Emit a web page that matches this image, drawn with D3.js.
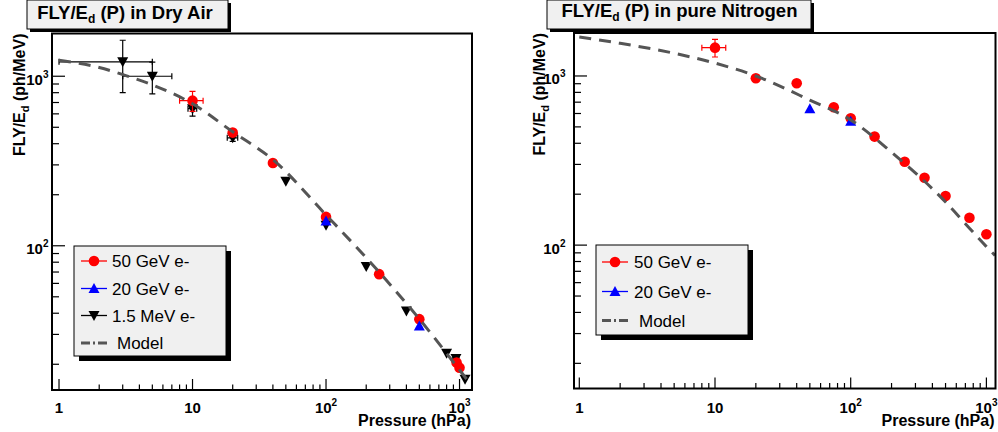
<!DOCTYPE html>
<html><head><meta charset="utf-8">
<script src="https://cdn.jsdelivr.net/npm/d3@7"></script>
<style>html,body{margin:0;padding:0;background:#fff}svg{display:block}</style>
</head><body><svg id="c" width="998" height="432"></svg>
<script>
// ---------- data: Dry Air ----------
const airP50 = [10, 20, 40, 100, 250, 500, 950, 1000];
const airV50 = [718, 465, 308, 148, 68, 36.9, 20.5, 19.1];
const airEP50 = [2, 0, 0, 0, 0, 0, 0, 0];
const airEV50 = [97, 0, 0, 0, 0, 0, 0, 0];
const airP20 = [100, 500];
const airV20 = [140, 33.6];
const airP15 = [3, 5, 10, 20, 50, 100, 200, 400, 800, 940, 1100];
const airV15 = [1216, 1000, 644, 433, 240, 132, 75.5, 41.3, 23.2, 21.6, 16.3];
const airEP15 = [2, 2, 0.75, 1.8, 0, 0, 0, 0, 0, 48, 0];
const airEV15 = [415, 213, 63, 20, 0, 0, 0, 0, 0, 0, 0];
const airModelP = [1, 2, 3, 5, 10, 20, 40, 100, 200, 500, 1000, 1200];
const airModelV = [1243, 1126, 1023, 890, 688, 470, 322, 152, 85, 37, 18.5, 15.4];
// ---------- data: pure Nitrogen ----------
const n2P50 = [10, 20, 40, 75, 100, 150, 250, 350, 500, 750, 1000];
const n2V50 = [1470, 969, 905, 653, 562, 438, 311, 250, 195, 145, 116];
const n2EP50 = [2, 0, 0, 0, 0, 0, 0, 0, 0, 0, 0];
const n2EV50 = [175, 0, 0, 0, 0, 0, 0, 0, 0, 0, 0];
const n2P20 = [50, 100];
const n2V20 = [640, 540];
const n2ModelP = [1, 2, 5, 10, 20, 50, 100, 200, 500, 750, 1000, 1157];
const n2ModelV = [1700, 1560, 1362, 1192, 1000, 720, 550, 354, 180, 126, 98, 87];
// ---------- axis labels ----------
const xMajor = [1, 10, 100, 1000];
const xTickLabels = [["1", ""], ["10", ""], ["10", "2"], ["10", "3"]];
const yMajor = [100, 1000];
const yTickLabels = [["10", "2"], ["10", "3"]];
const xTitle = "Pressure (hPa)";
const yTitle = ["FLY/E", "d", " (ph/MeV)"];
const titles = [["FLY/E", "d", " (P) in Dry Air"], ["FLY/E", "d", " (P) in pure Nitrogen"]];
const legendAir = ["50 GeV e-", "20 GeV e-", "1.5 MeV e-", "Model"];
const legendN2 = ["50 GeV e-", "20 GeV e-", "Model"];

const svg = d3.select("#c");
const BOLD = "'Liberation Sans', Arial, Helvetica, sans-serif";
const zip = (P, V, EP, EV) => P.map((p, i) => ({p, v: V[i], ep: EP ? EP[i] : 0, ev: EV ? EV[i] : 0}));

const upTri = "M0,-5.5L5.5,4.5L-5.5,4.5Z";
const downTri = "M-5.5,-4.5L5.5,-4.5L0,5.5Z";

function drawMarker(g, kind, cx, cy, color) {
  if (kind === "circle") g.append("circle").attr("cx", cx).attr("cy", cy).attr("r", 5.3).attr("fill", color);
  else g.append("path").attr("d", kind === "up" ? upTri : downTri).attr("transform", `translate(${cx},${cy})`).attr("fill", color);
}

function panel(cfg) {
  const g = svg.append("g");
  const x = d3.scaleLog().domain(cfg.xDom).range([cfg.fx0, cfg.fx1]);
  const y = d3.scaleLog().domain(cfg.yDom).range([cfg.fy1, cfg.fy0]);
  const id = "clip" + cfg.name;
  svg.append("clipPath").attr("id", id).append("rect")
    .attr("x", cfg.fx0).attr("y", cfg.fy0).attr("width", cfg.fx1 - cfg.fx0).attr("height", cfg.fy1 - cfg.fy0);

  // ticks
  const xMinor = [], yMinor = [];
  for (let k = 0; k < 4; k++) for (let m = 2; m <= 9; m++) {
    const v = m * Math.pow(10, k);
    if (v > cfg.xDom[0] && v < cfg.xDom[1]) xMinor.push(v);
  }
  for (let k = 1; k < 4; k++) for (let m = 2; m <= 9; m++) {
    const v = m * Math.pow(10, k);
    if (v > cfg.yDom[0] && v < cfg.yDom[1]) yMinor.push(v);
  }
  const tk = g.append("g").attr("stroke", "#000").attr("stroke-width", 1.2);
  xMajor.forEach(v => tk.append("line").attr("x1", x(v)).attr("x2", x(v)).attr("y1", cfg.fy1).attr("y2", cfg.fy1 - 11));
  xMinor.forEach(v => tk.append("line").attr("x1", x(v)).attr("x2", x(v)).attr("y1", cfg.fy1).attr("y2", cfg.fy1 - 5.5));
  yMajor.forEach(v => tk.append("line").attr("y1", y(v)).attr("y2", y(v)).attr("x1", cfg.fx0).attr("x2", cfg.fx0 + 13));
  yMinor.forEach(v => tk.append("line").attr("y1", y(v)).attr("y2", y(v)).attr("x1", cfg.fx0).attr("x2", cfg.fx0 + 7));

  // tick labels
  xMajor.forEach((v, i) => {
    const t = g.append("text").attr("x", x(v)).attr("y", 412.5).attr("text-anchor", "middle")
      .attr("font-family", BOLD).attr("font-weight", "bold").attr("font-size", 15);
    t.append("tspan").text(xTickLabels[i][0]);
    if (xTickLabels[i][1]) t.append("tspan").attr("dy", -7).attr("font-size", 10).text(xTickLabels[i][1]);
  });
  yMajor.forEach((v, i) => {
    const t = g.append("text").attr("x", cfg.ylabX).attr("y", y(v) + 8.5).attr("text-anchor", "end")
      .attr("font-family", BOLD).attr("font-weight", "bold").attr("font-size", 15);
    t.append("tspan").text(yTickLabels[i][0]);
    t.append("tspan").attr("dy", -7).attr("font-size", 10).text(yTickLabels[i][1]);
  });

  // axis titles
  g.append("text").attr("x", cfg.fx1 - 1).attr("y", 425.5).attr("text-anchor", "end")
    .attr("font-family", BOLD).attr("font-weight", "bold").attr("font-size", 16).text(xTitle);
  const yt = g.append("text").attr("transform", `translate(${cfg.ytitleX},${cfg.fy0}) rotate(-90)`)
    .attr("text-anchor", "end").attr("font-family", BOLD).attr("font-weight", "bold").attr("font-size", 16);
  yt.append("tspan").text(yTitle[0]);
  yt.append("tspan").attr("dy", 4).attr("font-size", 11).text(yTitle[1]);
  yt.append("tspan").attr("dy", -4).text(yTitle[2]);

  // data
  const dg = g.append("g").attr("clip-path", `url(#${id})`);
  function errs(data, color) {
    data.forEach(d => {
      const cx = x(d.p), cy = y(d.v);
      if (d.ep > 0) {
        const a = x(d.p - d.ep), b = x(d.p + d.ep);
        dg.append("line").attr("x1", a).attr("x2", b).attr("y1", cy).attr("y2", cy).attr("stroke", color).attr("stroke-width", 1.2);
        [a, b].forEach(xx => dg.append("line").attr("x1", xx).attr("x2", xx).attr("y1", cy - 3).attr("y2", cy + 3).attr("stroke", color).attr("stroke-width", 1.2));
      }
      if (d.ev > 0) {
        const a = y(d.v - d.ev), b = y(d.v + d.ev);
        dg.append("line").attr("x1", cx).attr("x2", cx).attr("y1", a).attr("y2", b).attr("stroke", color).attr("stroke-width", 1.2);
        [a, b].forEach(yy => dg.append("line").attr("x1", cx - 3).attr("x2", cx + 3).attr("y1", yy).attr("y2", yy).attr("stroke", color).attr("stroke-width", 1.2));
      }
    });
  }
  cfg.series.forEach(s => {
    errs(s.data, s.color);
    s.data.forEach(d => drawMarker(dg, s.kind, x(d.p), y(d.v), s.color));
  });
  const line = d3.line().x(d => x(d.p)).y(d => y(d.v)).curve(d3.curveMonotoneX);
  dg.append("path").datum(cfg.model).attr("d", line).attr("fill", "none")
    .attr("stroke", "#555").attr("stroke-width", 3).attr("stroke-dasharray", "12 8");

  // frame
  g.append("rect").attr("x", cfg.fx0).attr("y", cfg.fy0).attr("width", cfg.fx1 - cfg.fx0).attr("height", cfg.fy1 - cfg.fy0)
    .attr("fill", "none").attr("stroke", "#000").attr("stroke-width", 2);

  // title box
  const tb = cfg.tbox;
  g.append("rect").attr("x", tb.x + 3).attr("y", tb.y + 3).attr("width", tb.w).attr("height", tb.h).attr("fill", "#000");
  g.append("rect").attr("x", tb.x).attr("y", tb.y).attr("width", tb.w).attr("height", tb.h).attr("fill", "#f0f0f0").attr("stroke", "#000").attr("stroke-width", 1);
  const tt = g.append("text").attr("x", tb.tx).attr("y", tb.ty).attr("text-anchor", "middle")
    .attr("font-family", BOLD).attr("font-weight", "bold").attr("font-size", 18.5);
  tt.append("tspan").text(cfg.title[0]);
  tt.append("tspan").attr("dy", 4).attr("font-size", 12).text(cfg.title[1]);
  tt.append("tspan").attr("dy", -4).text(cfg.title[2]);

  // legend
  const L = cfg.legend;
  g.append("rect").attr("x", L.x + 5).attr("y", L.y + 5).attr("width", L.w).attr("height", L.h).attr("fill", "#000");
  g.append("rect").attr("x", L.x).attr("y", L.y).attr("width", L.w).attr("height", L.h).attr("fill", "#f0f0f0").attr("stroke", "#000").attr("stroke-width", 1);
  L.items.forEach((it, i) => {
    const ry = L.rows[i];
    if (it.kind === "model") {
      g.append("line").attr("x1", L.sx0).attr("x2", L.sx1).attr("y1", ry).attr("y2", ry)
        .attr("stroke", "#555").attr("stroke-width", 3).attr("stroke-dasharray", "9 3 2 3 9 100");
    } else {
      g.append("line").attr("x1", L.sx0).attr("x2", L.sx1).attr("y1", ry).attr("y2", ry).attr("stroke", it.color).attr("stroke-width", 1.3);
      drawMarker(g, it.kind, (L.sx0 + L.sx1) / 2, ry, it.color);
    }
    g.append("text").attr("x", it.kind === "model" ? L.tx + 5 : L.tx).attr("y", ry + 6)
      .attr("font-family", BOLD).attr("font-size", 17).attr("fill", "#000").text(it.label);
  });
}

panel({
  name: "air", fx0: 52, fx1: 472, fy0: 33.5, fy1: 390,
  xDom: [0.886, 1240], yDom: [14.1, 1787], ylabX: 48.5, ytitleX: 25,
  tbox: {x: 27, y: 0, w: 201, h: 29, tx: 125, ty: 19},
  title: titles[0],
  series: [
    {kind: "down", color: "#000", data: zip(airP15, airV15, airEP15, airEV15)},
    {kind: "circle", color: "#ff0000", data: zip(airP50, airV50, airEP50, airEV50)},
    {kind: "up", color: "#0000ff", data: zip(airP20, airV20)}
  ],
  model: zip(airModelP, airModelV),
  legend: {x: 74, y: 246, w: 152, h: 110, rows: [261, 288.5, 315.5, 343], sx0: 81, sx1: 107, tx: 112,
    items: [
      {kind: "circle", color: "#ff0000", label: legendAir[0]},
      {kind: "up", color: "#0000ff", label: legendAir[1]},
      {kind: "down", color: "#000", label: legendAir[2]},
      {kind: "model", label: legendAir[3]}
    ]}
});

panel({
  name: "n2", fx0: 574, fx1: 995.5, fy0: 33, fy1: 388.5,
  xDom: [0.914, 1167], yDom: [14.2, 1795], ylabX: 565.5, ytitleX: 545,
  tbox: {x: 547, y: 0, w: 264, h: 29, tx: 679.5, ty: 17},
  title: titles[1],
  series: [
    {kind: "circle", color: "#ff0000", data: zip(n2P50, n2V50, n2EP50, n2EV50)},
    {kind: "up", color: "#0000ff", data: zip(n2P20, n2V20)}
  ],
  model: zip(n2ModelP, n2ModelV),
  legend: {x: 596, y: 245, w: 152, h: 90, rows: [262, 291.5, 320.5], sx0: 602, sx1: 628, tx: 634,
    items: [
      {kind: "circle", color: "#ff0000", label: legendN2[0]},
      {kind: "up", color: "#0000ff", label: legendN2[1]},
      {kind: "model", label: legendN2[2]}
    ]}
});
</script></body></html>
